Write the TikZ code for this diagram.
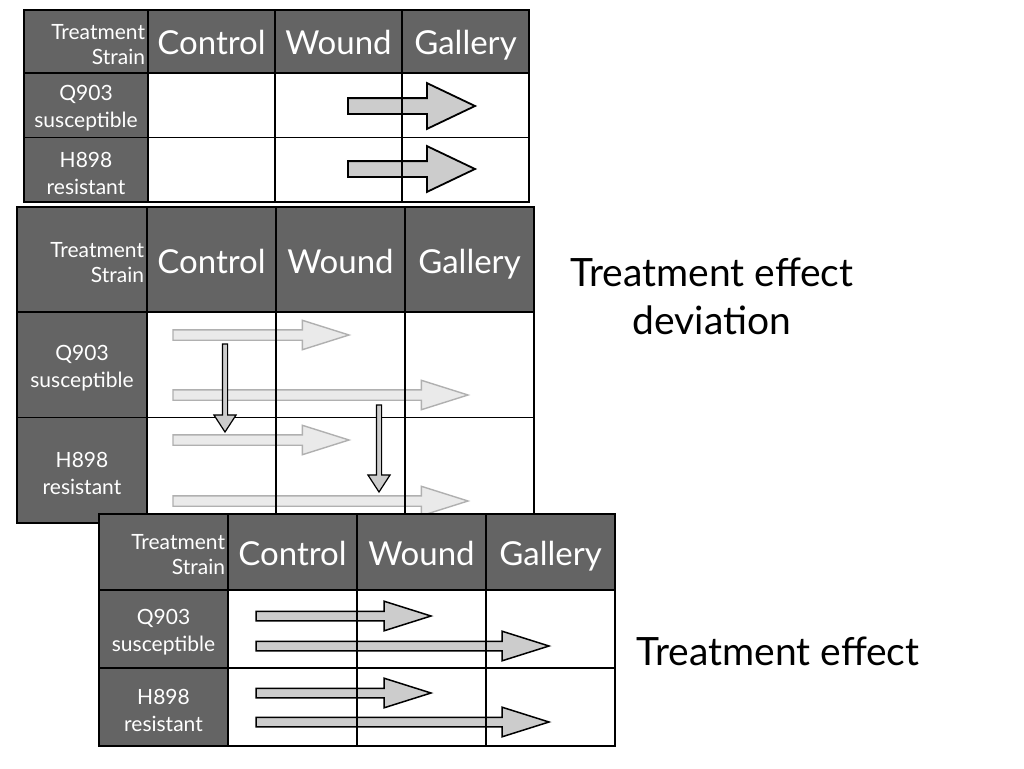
\documentclass[tikz,border=0pt]{standalone}
\usepackage{fontspec}
\setmainfont{Lato}
\usetikzlibrary{shapes.arrows}
\definecolor{headgray}{RGB}{100,100,100}
\definecolor{arrowgray}{RGB}{204,204,204}
\definecolor{palegray}{RGB}{234,234,234}
\definecolor{paleedge}{RGB}{176,176,176}
\tikzset{
  cell/.style={draw, line width=1.2pt, fill=white, anchor=north west, inner sep=0pt, outer sep=0pt},
  head/.style={cell, fill=headgray, text=white, text height=27pt, text depth=0pt, font=\fontsize{33}{33}\selectfont},
  corner/.style={cell, fill=headgray, text=white, align=right, inner xsep=3pt, font=\fontsize{21}{25}\selectfont},
  strain/.style={cell, fill=headgray, text=white, align=center, font=\fontsize{21}{27}\selectfont},
  grid/.style={draw, line width=1.2pt},
  frame/.style={draw, line width=2.4pt},
  blockarrow/.style={single arrow, single arrow head indent=0pt, inner xsep=0pt, outer sep=0pt, anchor=tail},
  bigarrow/.style={blockarrow, draw=black, fill=arrowgray, line width=1.8pt, inner ysep=7pt, single arrow head extend=15pt, single arrow tip angle=51},
  palearrow/.style={blockarrow, draw=paleedge, fill=palegray, line width=1.4pt, inner ysep=4.5pt, single arrow head extend=9.5pt, single arrow tip angle=35},
  effarrow/.style={blockarrow, draw=black, fill=arrowgray, line width=1.5pt, inner ysep=4pt, single arrow head extend=10pt, single arrow tip angle=35},
  downarrow/.style={blockarrow, draw=black, fill=arrowgray, line width=1.2pt, inner sep=2pt, single arrow head extend=8.5pt, single arrow tip angle=66, shape border rotate=270},
  biglabel/.style={align=center, font=\fontsize{39}{48}\selectfont}
}
\begin{document}
\begin{tikzpicture}[x=1pt, y=-1pt]
\useasboundingbox[fill=white] (0,0) rectangle (1024,768);

% first table
\begin{scope}[shift={(24,10)}]
  \node[corner, text width=118pt, minimum height=63pt] (a00) at (0,0) {\rule{0pt}{21pt}Treatment\\Strain};
  \foreach \t [count=\c] in {Control,Wound,Gallery}
    \node[head, minimum width=127pt, minimum height=63pt] (a0\c) at ({124+127*(\c-1)},0) {\t};
  \foreach \lbl/\sub [count=\r] in {Q903/susceptible,H898/resistant} {
    \node[strain, minimum width=124pt, minimum height=64.5pt] (a\r0) at (0,{63+64.5*(\r-1)}) {\rule{0pt}{22pt}\lbl\\\sub};
    \foreach \c in {1,2,3}
      \node[cell, minimum width=127pt, minimum height=64.5pt] (a\r\c) at ({124+127*(\c-1)},{63+64.5*(\r-1)}) {};
  }
\end{scope}
\node[bigarrow, minimum height=127pt] (aq) at (348,106) {};
\node[bigarrow, minimum height=127pt] (ah) at (348,169) {};
\foreach \r in {0,1,2} \foreach \c in {0,...,3}
  \draw[grid] (a\r\c.north west) rectangle (a\r\c.south east);
\draw[frame] (a00.north west) rectangle (a23.south east);

% second table
\begin{scope}[shift={(17,207)}]
  \node[corner, text width=124pt, minimum height=105pt] (b00) at (0,0) {\rule{0pt}{21pt}Treatment\\Strain};
  \foreach \t [count=\c] in {Control,Wound,Gallery}
    \node[head, minimum width=129pt, minimum height=105pt] (b0\c) at ({130+129*(\c-1)},0) {\t};
  \foreach \lbl/\sub [count=\r] in {Q903/susceptible,H898/resistant} {
    \node[strain, minimum width=130pt, minimum height=105.5pt] (b\r0) at (0,{105+105.5*(\r-1)}) {\rule{0pt}{22pt}\lbl\\\sub};
    \foreach \c in {1,2,3}
      \node[cell, minimum width=129pt, minimum height=105.5pt] (b\r\c) at ({130+129*(\c-1)},{105+105.5*(\r-1)}) {};
  }
\end{scope}
\node[palearrow, minimum height=176pt] (bqc) at (173,335) {};
\node[palearrow, minimum height=295pt] (bqg) at (173,395) {};
\node[palearrow, minimum height=176pt] (bhc) at (173,440) {};
\node[palearrow, minimum height=295pt] (bhg) at (173,501) {};
\foreach \r in {0,1,2} \foreach \c in {0,...,3}
  \draw[grid] (b\r\c.north west) rectangle (b\r\c.south east);
\draw[frame] (b00.north west) rectangle (b23.south east);
\node[downarrow, minimum height=88pt] (bdc) at (225,344) {};
\node[downarrow, minimum height=87pt] (bdg) at (379,405) {};

% third table
\begin{scope}[shift={(99,514)}]
  \node[corner, text width=123pt, minimum height=76pt] (c00) at (0,0) {\rule{0pt}{21pt}Treatment\\Strain};
  \foreach \t [count=\c] in {Control,Wound,Gallery}
    \node[head, minimum width=129pt, minimum height=76pt] (c0\c) at ({129+129*(\c-1)},0) {\t};
  \foreach \lbl/\sub [count=\r] in {Q903/susceptible,H898/resistant} {
    \node[strain, minimum width=129pt, minimum height=78pt] (c\r0) at (0,{76+78*(\r-1)}) {\rule{0pt}{22pt}\lbl\\\sub};
    \foreach \c in {1,2,3}
      \node[cell, minimum width=129pt, minimum height=78pt] (c\r\c) at ({129+129*(\c-1)},{76+78*(\r-1)}) {};
  }
\end{scope}
\node[effarrow, minimum height=175pt] (cqc) at (256,616) {};
\node[effarrow, minimum height=293pt] (cqg) at (256,646) {};
\node[effarrow, minimum height=175pt] (chc) at (256,693) {};
\node[effarrow, minimum height=293pt] (chg) at (256,722) {};
\foreach \r in {0,1,2} \foreach \c in {0,...,3}
  \draw[grid] (c\r\c.north west) rectangle (c\r\c.south east);
\draw[frame] (c00.north west) rectangle (c23.south east);

% labels
\node[biglabel] (devlabel) at (712,296) {Treatment effect\\deviation};
\node[biglabel] (efflabel) at (778,651) {Treatment effect};
\end{tikzpicture}
\end{document}
